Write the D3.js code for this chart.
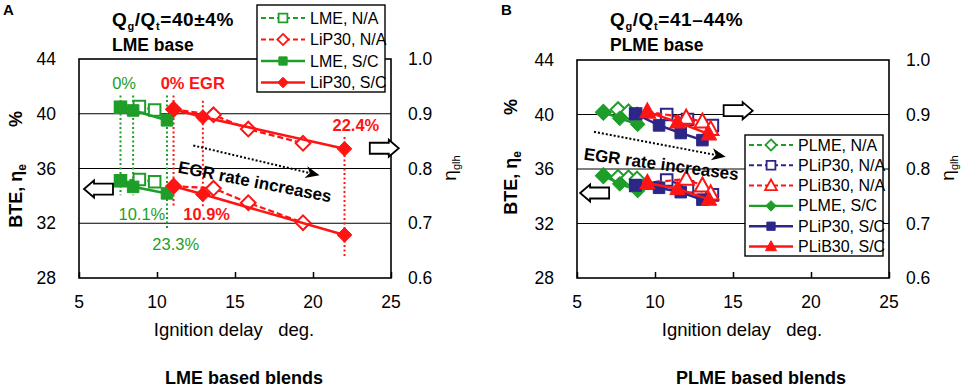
<!DOCTYPE html>
<html lang="en">
<head>
<meta charset="UTF-8">
<title>BTE and glh efficiency vs ignition delay</title>
<script src="https://d3js.org/d3.v7.min.js"></script>
<style>
  body { margin: 0; background: #fff; font-family: "Liberation Sans", Arial, sans-serif; }
  svg text { fill: #000; }
</style>
</head>
<body>
<script>
// ---- data ----
const xTicks = [5, 10, 15, 20, 25];
const bteTicks = [28, 32, 36, 40, 44];
const etaTicks = [0.6, 0.7, 0.8, 0.9, 1.0];

// panel A - LME based blends (delay deg., eta_glh, BTE %)
const lmeNaDelay = [7.66, 8.87, 9.85];
const lmeNaEta = [0.912, 0.913, 0.907];
const lmeNaBte = [35.1, 35.2, 35.03];
const lmeScDelay = [7.66, 8.47, 10.64];
const lmeScEta = [0.912, 0.906, 0.888];
const lmeScBte = [35.1, 34.66, 34.18];
const lip30NaDelay = [11.06, 13.62, 15.85, 19.36];
const lip30NaEta = [0.908, 0.898, 0.872, 0.846];
const lip30NaBte = [34.71, 34.55, 33.5, 32.04];
const lip30ScDelay = [11.06, 12.94, 22.02];
const lip30ScEta = [0.908, 0.894, 0.836];
const lip30ScBte = [34.71, 34.11, 31.15];
// EGR rate labels (panel A)
const egrLabelsA = ["0%", "0% EGR", "22.4%", "10.1%", "10.9%", "23.3%"];

// panel B - PLME based blends
const plmeNaDelay = [6.69, 7.63, 8.3, 8.85];
const plmeNaEta = [0.904, 0.909, 0.905, 0.899];
const plmeNaBte = [35.51, 35.39, 35.35, 35.27];
const plmeScDelay = [6.69, 7.74, 8.89];
const plmeScEta = [0.904, 0.893, 0.882];
const plmeScBte = [35.51, 34.91, 34.42];
const plip30NaDelay = [8.76, 10.75, 12.08, 13.68];
const plip30NaEta = [0.901, 0.9, 0.891, 0.88];
const plip30NaBte = [34.79, 35.2, 34.7, 34.1];
const plip30ScDelay = [8.76, 10.26, 11.65, 13.04];
const plip30ScEta = [0.901, 0.88, 0.866, 0.853];
const plip30ScBte = [34.79, 34.62, 34.3, 33.75];
const plib30NaDelay = [9.51, 12.0, 13.04, 13.57];
const plib30NaEta = [0.905, 0.894, 0.887, 0.873];
const plib30NaBte = [34.97, 35.27, 34.78, 34.2];
const plib30ScDelay = [9.51, 11.44, 13.46];
const plib30ScEta = [0.905, 0.886, 0.864];
const plib30ScBte = [34.97, 34.55, 33.77];

// ---- style ----
const GREEN = "#1e9e28", RED = "#ff1414", NAVY = "#2b2688";

const seriesA = [
  {name: "LME, N/A", delay: lmeNaDelay, eta: lmeNaEta, bte: lmeNaBte, color: GREEN, dash: true, mk: "square", open: true},
  {name: "LiP30, N/A", delay: lip30NaDelay, eta: lip30NaEta, bte: lip30NaBte, color: RED, dash: true, mk: "diamond", open: true},
  {name: "LME, S/C", delay: lmeScDelay, eta: lmeScEta, bte: lmeScBte, color: GREEN, dash: false, mk: "square", open: false},
  {name: "LiP30, S/C", delay: lip30ScDelay, eta: lip30ScEta, bte: lip30ScBte, color: RED, dash: false, mk: "diamond", open: false}
];
const seriesB = [
  {name: "PLME, N/A", delay: plmeNaDelay, eta: plmeNaEta, bte: plmeNaBte, color: GREEN, dash: true, mk: "diamond", open: true},
  {name: "PLiP30, N/A", delay: plip30NaDelay, eta: plip30NaEta, bte: plip30NaBte, color: NAVY, dash: true, mk: "square", open: true},
  {name: "PLiB30, N/A", delay: plib30NaDelay, eta: plib30NaEta, bte: plib30NaBte, color: RED, dash: true, mk: "triangle", open: true},
  {name: "PLME, S/C", delay: plmeScDelay, eta: plmeScEta, bte: plmeScBte, color: GREEN, dash: false, mk: "diamond", open: false},
  {name: "PLiP30, S/C", delay: plip30ScDelay, eta: plip30ScEta, bte: plip30ScBte, color: NAVY, dash: false, mk: "square", open: false},
  {name: "PLiB30, S/C", delay: plib30ScDelay, eta: plib30ScEta, bte: plib30ScBte, color: RED, dash: false, mk: "triangle", open: false}
];

function markerPath(type, s) {
  if (type === "square") return `M${-s},${-s}H${s}V${s}H${-s}Z`;
  if (type === "diamond") return `M0,${-s}L${s},0L0,${s}L${-s},0Z`;
  return `M0,${-s * 1.1}L${s * 1.05},${s * 0.8}L${-s * 1.05},${s * 0.8}Z`;
}
function mkSize(type) { return type === "square" ? 5.5 : 7; }

const svg = d3.select("body").append("svg").attr("width", 961).attr("height", 389);

function drawPanel(p) {
  const g = svg.append("g");
  const x = d3.scaleLinear().domain([5, 25]).range([p.left, p.right]);
  const yB = d3.scaleLinear().domain([28, 44]).range([p.bottom, p.top]);
  const yE = d3.scaleLinear().domain([0.6, 1.0]).range([p.bottom, p.top]);

  // grid
  g.selectAll(".grid").data([32, 36, 40]).join("line")
    .attr("x1", p.left).attr("x2", p.right)
    .attr("y1", d => yB(d)).attr("y2", d => yB(d))
    .attr("stroke", "#000").attr("stroke-width", 1.2);

  // axes
  const ax = g.append("g").attr("transform", `translate(0,${p.bottom})`)
    .call(d3.axisTop(x).tickValues(xTicks).tickSize(6).tickFormat(""));
  ax.select(".domain").remove();
  ax.selectAll("line").attr("stroke-width", 1.5);
  g.selectAll(".xl").data(xTicks).join("text")
    .attr("x", d => x(d)).attr("y", p.bottom + 30)
    .attr("text-anchor", "middle").attr("font-size", 17.5).text(d => d);
  g.selectAll(".yl").data(bteTicks).join("text")
    .attr("x", p.left - 23).attr("y", d => yB(d) + 6)
    .attr("text-anchor", "end").attr("font-size", 17.5).text(d => d);
  g.selectAll(".el").data(etaTicks).join("text")
    .attr("x", p.right + 17).attr("y", d => yE(d) + 6)
    .attr("font-size", 17.5).text(d => d.toFixed(1));
  g.append("rect").attr("x", p.left).attr("y", p.top)
    .attr("width", p.right - p.left).attr("height", p.bottom - p.top)
    .attr("fill", "none").attr("stroke", "#000").attr("stroke-width", 1.6);

  // annotations below data
  if (p.extra) p.extra(g, x, yB, yE);

  // series: lines then markers
  const lineE = d3.line().x(d => x(d[0])).y(d => yE(d[1]));
  const lineB = d3.line().x(d => x(d[0])).y(d => yB(d[1]));
  p.series.forEach(s => {
    const ptsE = s.delay.map((d, i) => [d, s.eta[i]]);
    const ptsB = s.delay.map((d, i) => [d, s.bte[i]]);
    [[ptsE, lineE], [ptsB, lineB]].forEach(([pts, ln]) => {
      g.append("path").attr("d", ln(pts)).attr("fill", "none")
        .attr("stroke", s.color).attr("stroke-width", s.dash ? 2.2 : 2.6)
        .attr("stroke-dasharray", s.dash ? "6,3" : null);
    });
    const all = ptsE.map(d => [x(d[0]), yE(d[1])]).concat(ptsB.map(d => [x(d[0]), yB(d[1])]));
    g.selectAll(null).data(all).join("path")
      .attr("transform", d => `translate(${d[0]},${d[1]})`)
      .attr("d", markerPath(s.mk, mkSize(s.mk) * p.mkScale))
      .attr("fill", s.open ? "#fff" : s.color)
      .attr("stroke", s.color).attr("stroke-width", s.open ? 2 : 1);
  });

  // hollow arrows
  p.arrows.forEach(a => {
    const cx = x(a.x), cy = yB(a.y), dir = a.dir;
    const L = 29, hw = 5.5, hh = 8.5, head = 10;
    const tail = cx - dir * L / 2, tip = cx + dir * L / 2, neck = tip - dir * head;
    const pts = [[tail, cy - hw], [neck, cy - hw], [neck, cy - hh], [tip, cy], [neck, cy + hh], [neck, cy + hw], [tail, cy + hw]];
    g.append("path").attr("d", "M" + pts.map(q => q.join(",")).join("L") + "Z")
      .attr("fill", "#fff").attr("stroke", "#000").attr("stroke-width", 1.8);
  });

  // EGR dotted arrow + text
  const e = p.egr;
  const x0 = x(e.x0), y0 = yB(e.y0), x1 = x(e.x1), y1 = yB(e.y1);
  const ang = Math.atan2(y1 - y0, x1 - x0);
  g.append("line").attr("x1", x0).attr("y1", y0)
    .attr("x2", x1 - 8 * Math.cos(ang)).attr("y2", y1 - 8 * Math.sin(ang))
    .attr("stroke", "#000").attr("stroke-width", 2).attr("stroke-dasharray", "2,2");
  g.append("path")
    .attr("d", "M0,0L-14,-6L-10,0L-14,6Z")
    .attr("transform", `translate(${x1},${y1}) rotate(${ang * 180 / Math.PI})`)
    .attr("fill", "#000");
  g.append("text")
    .attr("transform", `translate(${x(e.tx)},${yB(e.ty)}) rotate(${e.rot})`)
    .attr("font-size", 17).attr("font-weight", "bold").text("EGR rate increases");

  // legend
  const lg = p.legend;
  g.append("rect").attr("x", lg.x).attr("y", lg.y).attr("width", lg.w).attr("height", lg.h)
    .attr("fill", "#fff").attr("stroke", "#000").attr("stroke-width", 1.4);
  p.series.forEach((s, i) => {
    const cy = lg.y + lg.first + i * lg.step;
    g.append("line").attr("x1", lg.x + 4).attr("x2", lg.x + 4 + lg.len)
      .attr("y1", cy).attr("y2", cy).attr("stroke", s.color)
      .attr("stroke-width", s.dash ? 2 : 2.4).attr("stroke-dasharray", s.dash ? "5,3" : null);
    g.append("path").attr("transform", `translate(${lg.x + 4 + lg.len / 2},${cy})`)
      .attr("d", markerPath(s.mk, s.open ? mkSize(s.mk) * 0.8 : mkSize(s.mk) * 0.75))
      .attr("fill", s.open ? "#fff" : s.color).attr("stroke", s.color)
      .attr("stroke-width", s.open ? 1.8 : 1);
    g.append("text").attr("x", lg.x + lg.len + 9).attr("y", cy + 5.5)
      .attr("font-size", 16).text(s.name);
  });

  // titles
  g.append("text").attr("x", p.left - 76).attr("y", 15)
    .attr("font-size", 15).attr("font-weight", "bold").text(p.letter);
  const q = g.append("text").attr("x", p.left + 33).attr("y", 26)
    .attr("font-size", 19).attr("font-weight", "bold").attr("letter-spacing", 0.6);
  q.append("tspan").text("Q");
  q.append("tspan").attr("font-size", 11).attr("dy", 4).text("g");
  q.append("tspan").attr("dy", -4).text("/Q");
  q.append("tspan").attr("font-size", 11).attr("dy", 4).text("t");
  q.append("tspan").attr("dy", -4).text(p.ratio);
  g.append("text").attr("x", p.left + 33).attr("y", 51)
    .attr("font-size", 17.5).attr("font-weight", "bold").text(p.base);

  g.append("text").attr("x", p.xTitleX).attr("y", 336).attr("text-anchor", "middle")
    .attr("font-size", 18.5).html("Ignition delay&#160;&#160; deg.");
  g.append("text").attr("x", p.blendX).attr("y", 384).attr("text-anchor", "middle")
    .attr("font-size", 18).attr("font-weight", "bold").text(p.blend);

  const yt = g.append("text").attr("transform", `translate(${p.left + p.yTitleDx},${p.bteTitleY}) rotate(-90)`)
    .attr("text-anchor", "middle").attr("font-size", 18).attr("font-weight", "bold");
  yt.append("tspan").text("BTE, η");
  yt.append("tspan").attr("font-size", 12).attr("dy", 4).text("e");
  g.append("text").attr("transform", `translate(${p.left + p.yTitleDx},${p.pctY}) rotate(-90)`)
    .attr("text-anchor", "middle").attr("font-size", 18).attr("font-weight", "bold").text("%");
  const rt = g.append("text").attr("transform", `translate(${p.right + 65},168) rotate(-90)`)
    .attr("text-anchor", "middle").attr("font-size", 19);
  rt.append("tspan").text("η");
  rt.append("tspan").attr("font-size", 11).attr("dy", 4).text("glh");
}

drawPanel({
  letter: "A", left: 79, right: 391, top: 59, bottom: 278, mkScale: 1.05,
  series: seriesA, ratio: "=40±4%", base: "LME base", blend: "LME based blends",
  xTitleX: 234, blendX: 244, bteTitleY: 196, pctY: 119, yTitleDx: -57,
  legend: {x: 257, y: 5, w: 128, h: 87, first: 13, step: 21.5, len: 44},
  arrows: [{x: 24.57, y: 37.48, dir: 1}, {x: 6.25, y: 34.5, dir: -1}],
  egr: {x0: 12.33, y0: 37.68, x1: 20.42, y1: 35.5, tx: 11.3, ty: 35.7, rot: 11},
  extra: (g, x, yB) => {
    const vl = [
      [lmeScDelay[0], 41.33, 34.05, GREEN], [lmeScDelay[1], 41.33, 34.05, GREEN], [lmeScDelay[2], 41.33, 31.6, GREEN],
      [lip30ScDelay[0], 41.33, 33.15, RED], [lip30ScDelay[1], 40.95, 33.15, RED], [lip30ScDelay[2], 38.3, 29.55, RED]
    ];
    g.selectAll(".vl").data(vl).join("line")
      .attr("x1", d => x(d[0])).attr("x2", d => x(d[0]))
      .attr("y1", d => yB(d[1])).attr("y2", d => yB(d[2]))
      .attr("stroke", d => d[3]).attr("stroke-width", 2).attr("stroke-dasharray", "2,2.5");
    const lbl = [
      [egrLabelsA[0], 7.89, 41.84, GREEN, "normal"], [egrLabelsA[1], 12.29, 41.84, RED, "bold"],
      [egrLabelsA[2], 22.75, 38.71, RED, "bold"], [egrLabelsA[3], 9.03, 32.24, GREEN, "normal"],
      [egrLabelsA[4], 13.18, 32.24, RED, "bold"], [egrLabelsA[5], 11.2, 30.06, GREEN, "normal"]
    ];
    g.selectAll(".lb").data(lbl).join("text")
      .attr("x", d => x(d[1])).attr("y", d => yB(d[2])).attr("text-anchor", "middle")
      .attr("font-size", 16.5).attr("font-weight", d => d[4])
      .style("fill", d => d[3]).text(d => d[0]);
  }
});

drawPanel({
  letter: "B", left: 577, right: 889, top: 60, bottom: 278, mkScale: 1.05,
  series: seriesB, ratio: "=41–44%", base: "PLME base", blend: "PLME based blends",
  xTitleX: 742, blendX: 761, bteTitleY: 183, pctY: 107, yTitleDx: -60,
  legend: {x: 745, y: 135, w: 138, h: 121, first: 10, step: 20.3, len: 44},
  arrows: [{x: 15.33, y: 40.28, dir: 1}, {x: 6.13, y: 34.24, dir: -1}],
  egr: {x0: 6.09, y0: 38.73, x1: 14.53, y1: 36.89, tx: 5.4, ty: 36.7, rot: 7.7}
});
</script>
</body>
</html>
